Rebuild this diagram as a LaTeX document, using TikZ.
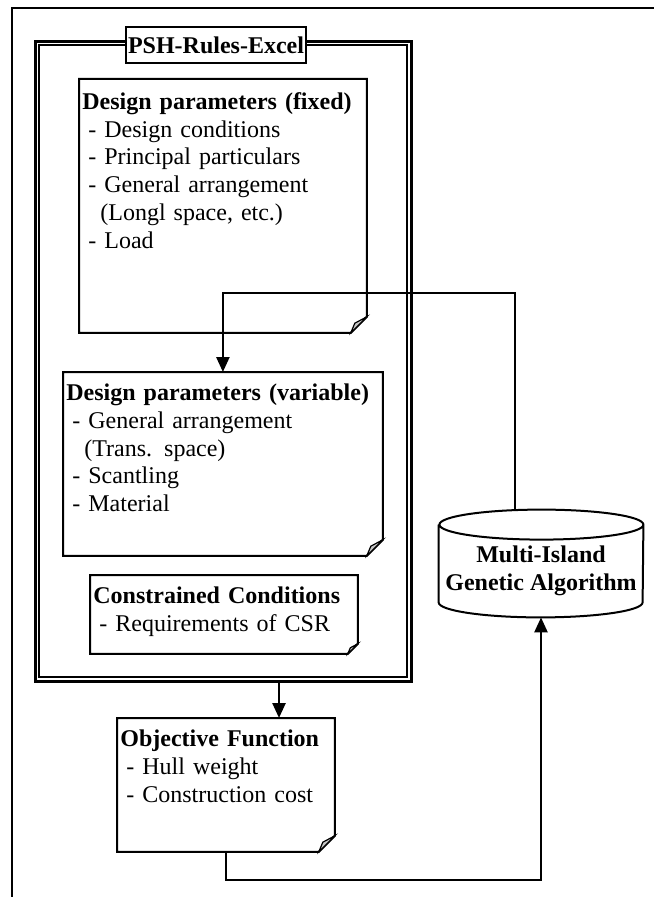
\documentclass[tikz,border=0pt]{standalone}
\usepackage{fontspec}
\setmainfont{Liberation Serif}
\usetikzlibrary{arrows.meta,positioning}

% note outline with folded corner: #1 node, #2 fold size
\newcommand{\foldnote}[2]{%
  \draw[line width=1pt] (#1.north west) -- (#1.north east) -- ([yshift=#2]#1.south east)
    -- ([xshift=-#2]#1.south east) -- (#1.south west) -- cycle;
  \filldraw[fill=gray!45, line width=0.6pt] ([yshift=#2]#1.south east) -- ([xshift=-#2]#1.south east)
    -- ([xshift=-0.75*#2, yshift=0.6*#2]#1.south east) -- cycle;}
\newcommand{\itm}{\hspace*{3pt}- }
\newcommand{\itmcont}{\hspace*{3pt}\phantom{-}\hspace*{2pt}}

\begin{document}
\begin{tikzpicture}[x=0.5pt, y=-0.5pt, font=\fontsize{12}{13.9}\selectfont,
  note_box/.style={inner xsep=1.5pt, inner ysep=0pt, anchor=north west, align=left},
  tag_box/.style={draw, fill=white, line width=1pt, font=\fontsize{12}{14}\selectfont\bfseries,
    minimum width=90pt, minimum height=18pt, inner sep=0pt},
  flow/.style={-{Triangle[width=6.5pt,length=7.5pt]}, line width=1.25pt}]

  \useasboundingbox (0,0) rectangle (654,897);
  \draw[line width=1pt] (12,897) -- (12,8) -- (654,8);

  % PSH-Rules-Excel frame
  \node[draw, line width=1.5pt, minimum width=188pt, minimum height=319.75pt, inner sep=0pt] (excel) at (223,361.25) {};
  \draw[line width=1pt] ([shift={(5.5,5.5)}]excel.north west) rectangle ([shift={(-5.5,-5.5)}]excel.south east);
  \node[tag_box] (tag) at (216,45) {PSH-Rules-Excel};

  \node[note_box, text width=140.5pt, text height=15pt, text depth=111.5pt] (fixed) at (79,79)
    {\textbf{Design parameters (fixed)}\\ \itm Design conditions\\ \itm Principal particulars\\
     \itm General arrangement\\ \itmcont(Longl space, etc.)\\ \itm Load};
  \node[note_box, text width=156.5pt, text height=14pt, text depth=77.5pt] (var) at (63,372)
    {\textbf{Design parameters (variable)}\\ \itm General arrangement\\ \itmcont(Trans. space)\\
     \itm Scantling\\ \itm Material};
  \node[note_box, text width=130.5pt, text height=14pt, text depth=25pt] (cons) at (90,575)
    {\textbf{Constrained Conditions}\\ \itm Requirements of CSR};
  \node[note_box, text width=105.5pt, text height=14pt, text depth=52.5pt] (obj) at (117,718)
    {\textbf{Objective Function}\\ \itm Hull weight\\ \itm Construction cost};
  \foldnote{fixed}{8pt}
  \foldnote{var}{8pt}
  \foldnote{cons}{5pt}
  \foldnote{obj}{8pt}

  % optimizer
  \node[minimum width=102pt, minimum height=31pt, inner sep=0pt, align=center,
    font=\fontsize{12}{14}\selectfont\bfseries] (mga) at (541,571) {Multi-Island\\Genetic Algorithm};
  \draw[line width=1pt] ([yshift=7.5pt]mga.north west) -- (mga.south west)
    arc[start angle=180, end angle=360, x radius=51pt, y radius=7.5pt] -- ([yshift=7.5pt]mga.north east)
    arc[start angle=0, end angle=360, x radius=51pt, y radius=7.5pt];
  \coordinate (mgain) at ([yshift=-7.5pt]mga.south);
  \coordinate (mgaout) at ([xshift=-13pt, yshift=14.6pt]mga.north);

  \coordinate (toprun) at (0,293);
  \coordinate (botrun) at (0,880);
  \draw[flow] ([xshift=28pt]excel.south) -- ([xshift=28pt]excel.south |- obj.north);
  \draw[flow] (mgaout) -- (mgaout |- toprun) -| (var.north);
  \draw[flow] (obj.south) -- (obj.south |- botrun) -| (mgain);
\end{tikzpicture}
\end{document}
